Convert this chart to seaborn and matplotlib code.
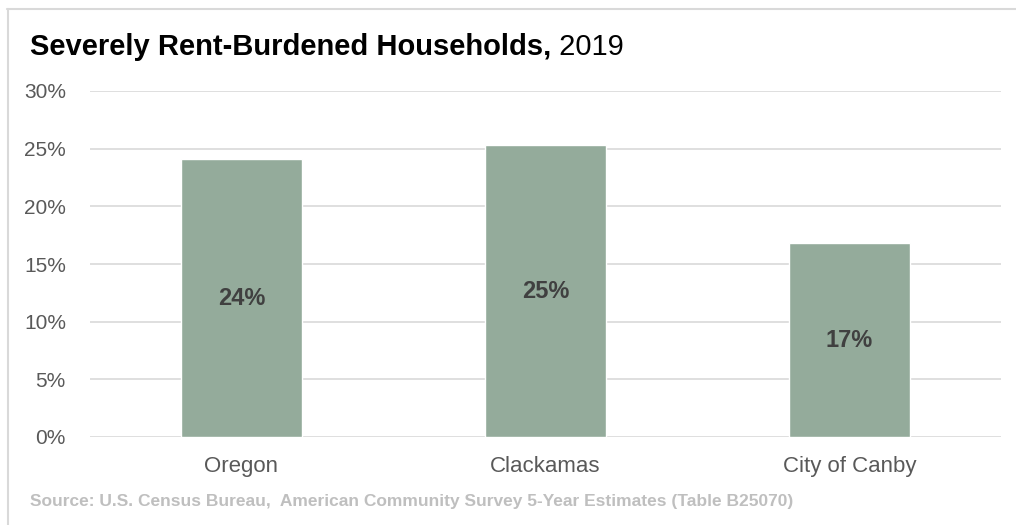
import matplotlib
matplotlib.use("Agg")
import matplotlib.pyplot as plt
import seaborn as sns
import pandas as pd
from matplotlib.lines import Line2D
from matplotlib.ticker import FuncFormatter

categories = ["Oregon", "Clackamas", "City of Canby"]
values = [24.1, 25.3, 16.8]
bar_labels = ["24%", "25%", "17%"]
y_ticks = [0, 5, 10, 15, 20, 25, 30]

sns.set_theme(style="white")
fam = ["Liberation Sans Narrow", "Liberation Sans", "DejaVu Sans"]
plt.rcParams["font.family"] = fam

df = pd.DataFrame({"cat": categories, "val": values})

fig = plt.figure(figsize=(10.16, 5.25), dpi=100)
ax = fig.add_axes([89.5 / 1016, 1 - 437 / 525, 912 / 1016, 346 / 525])

sns.barplot(data=df, x="cat", y="val", color="#94AB9B", width=0.4,
            saturation=1, ax=ax, zorder=3)

ax.set_xlim(-0.5, 2.5)
ax.set_ylim(0, 30)
ax.set_yticks(y_ticks)
ax.yaxis.set_major_formatter(FuncFormatter(lambda v, p: f"{v:.0f}%"))
ax.grid(axis="y", color="#D9D9D9", linewidth=1.2, zorder=0)
ax.grid(axis="x", visible=False)
for s in ax.spines.values():
    s.set_visible(False)
ax.set_xlabel("")
ax.set_ylabel("")
ax.tick_params(axis="y", length=0, pad=17, labelsize=15, labelcolor="#595959")
ax.tick_params(axis="x", length=0, pad=14, labelsize=16, labelcolor="#595959")

ax.bar_label(ax.containers[0], labels=bar_labels, label_type="center",
             fontsize=17, fontweight="bold", color="#404040")

t1 = fig.text(30 / 1016, 1 - 55 / 525, "Severely Rent-Burdened Households,",
              fontsize=21, fontweight="bold", color="black", ha="left", va="baseline")
fig.canvas.draw()
ax.annotate(" 2019", xy=(1, 0), xycoords=t1, fontsize=21, color="black",
            ha="left", va="bottom", annotation_clip=False)

fig.text(30 / 1016, 1 - 506 / 525,
         "Source: U.S. Census Bureau,  American Community Survey 5-Year Estimates (Table B25070)",
         fontsize=12.5, fontweight="bold", color="#BFBFBF", ha="left", va="baseline")

fig.add_artist(Line2D([7 / 1016, 1], [1 - 8.5 / 525, 1 - 8.5 / 525],
                      transform=fig.transFigure, color="#D9D9D9", linewidth=1.5))
fig.add_artist(Line2D([7.5 / 1016, 7.5 / 1016], [0, 1 - 8.5 / 525],
                      transform=fig.transFigure, color="#D9D9D9", linewidth=1.5))

fig.savefig("out.png", dpi=100)
